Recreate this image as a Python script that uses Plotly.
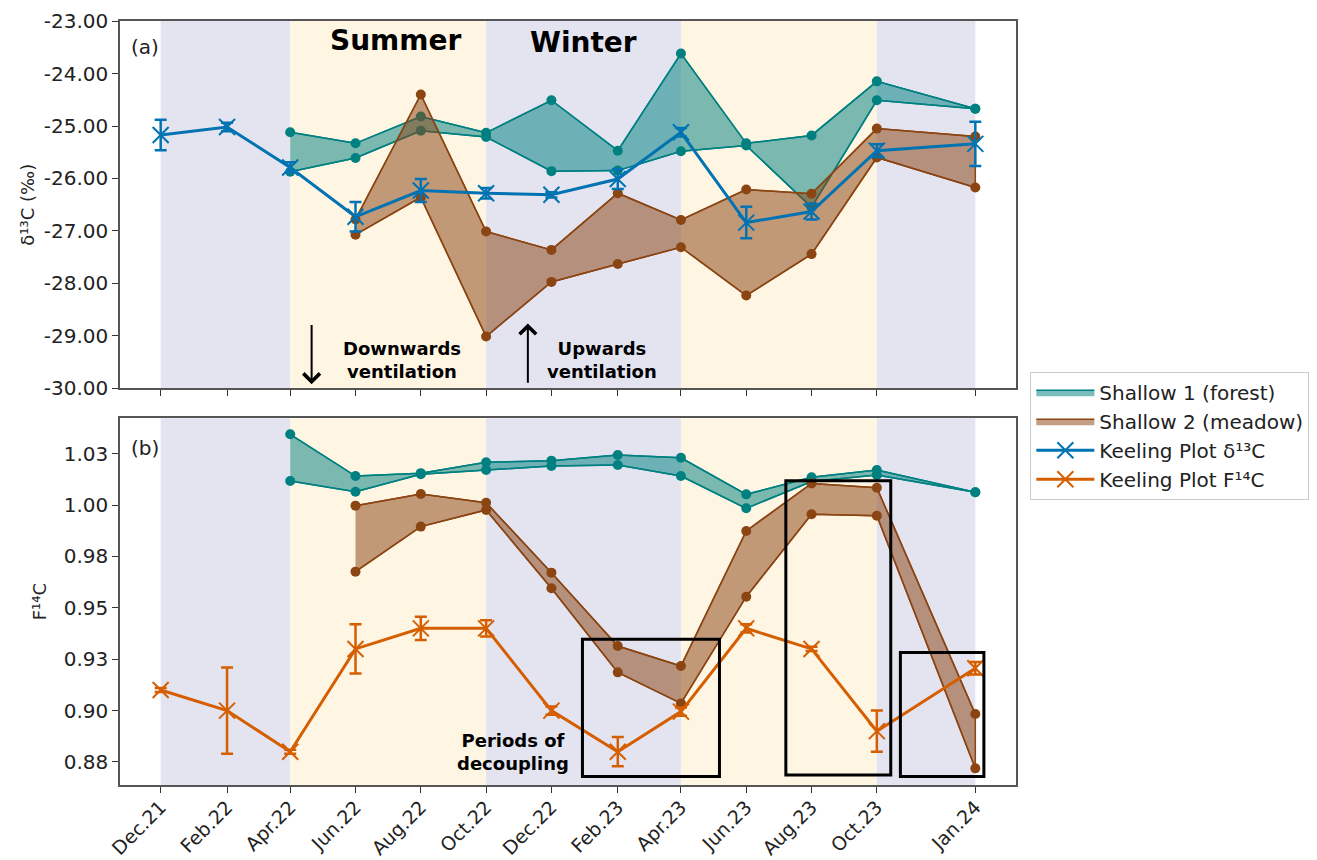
import plotly.graph_objects as go
from plotly.subplots import make_subplots

# ---------------- data ----------------
dates = ['2021-12-01', '2022-02-01', '2022-04-01', '2022-06-01', '2022-08-01', '2022-10-01',
         '2022-12-01', '2023-02-01', '2023-04-01', '2023-06-01', '2023-08-01', '2023-10-01',
         '2024-01-01']
tick_labels = ['Dec.21', 'Feb.22', 'Apr.22', 'Jun.22', 'Aug.22', 'Oct.22', 'Dec.22',
               'Feb.23', 'Apr.23', 'Jun.23', 'Aug.23', 'Oct.23', 'Jan.24']

# Keeling plot results
keel_d13c = [-25.17, -25.02, -25.79, -26.73, -26.23, -26.28, -26.31, -26.01, -25.12, -26.84, -26.63, -25.47, -25.34]
keel_d13c_err = [0.29, 0.08, 0.10, 0.28, 0.22, 0.10, 0.05, 0.19, 0.08, 0.30, 0.15, 0.12, 0.42]
keel_f14c = [0.910, 0.900, 0.880, 0.930, 0.940, 0.940, 0.900, 0.880, 0.8995, 0.940, 0.930, 0.890, 0.9206]
keel_f14c_err = [0.001, 0.021, 0.001, 0.012, 0.0057, 0.004, 0.002, 0.0071, 0.002, 0.002, 0.001, 0.010, 0.003]

# Shallow 1 (forest) range (upper / lower)
s1_d13c_hi = [None, None, -25.12, -25.33, -24.82, -25.13, -24.51, -25.47, -23.62, -25.33, -25.18, -24.15, -24.67]
s1_d13c_lo = [None, None, -25.87, -25.61, -25.09, -25.21, -25.86, -25.85, -25.48, -25.37, -26.55, -24.51, -24.67]
s1_f14c_hi = [None, None, 1.0344, 1.0141, 1.0155, 1.0208, 1.0216, 1.0243, 1.0230, 1.0052, 1.0135, 1.0170, 1.0062]
s1_f14c_lo = [None, None, 1.0117, 1.0065, 1.0150, 1.0170, 1.0190, 1.0195, 1.0141, 0.9984, 1.0114, 1.0146, 1.0062]

# Shallow 2 (meadow) range (upper / lower)
s2_d13c_hi = [None, None, None, -26.78, -24.40, -27.01, -27.36, -26.28, -26.79, -26.21, -26.29, -25.05, -25.20]
s2_d13c_lo = [None, None, None, -27.07, -26.36, -29.01, -27.97, -27.63, -27.31, -28.23, -27.44, -25.60, -26.17]
s2_f14c_hi = [None, None, None, 0.9997, 1.0054, 1.0011, 0.9671, 0.9314, 0.9217, 0.9874, 1.0105, 1.0084, 0.8983]
s2_f14c_lo = [None, None, None, 0.9676, 0.9895, 0.9976, 0.9595, 0.9186, 0.9035, 0.9554, 0.9955, 0.9948, 0.8719]

# seasons
season_edges = ['2021-12-01', '2022-04-01', '2022-10-01', '2023-04-01', '2023-10-01', '2024-01-01']
season_kind = ['winter', 'summer', 'winter', 'summer', 'winter']

# periods of decoupling (x start, x end, y low, y high)
decoupling_boxes = [
    ('2022-12-30', '2023-05-07', 0.8679, 0.9347),
    ('2023-07-08', '2023-10-14', 0.8687, 1.0118),
    ('2023-10-23', '2024-01-09', 0.8679, 0.9282),
]

d13c_tickvals = [-30, -29, -28, -27, -26, -25, -24, -23]
d13c_ticktext = ['-30.00', '-29.00', '-28.00', '-27.00', '-26.00', '-25.00', '-24.00', '-23.00']
f14c_tickvals = [0.875, 0.900, 0.925, 0.950, 0.975, 1.000, 1.025]
f14c_ticktext = ['0.88', '0.90', '0.93', '0.95', '0.98', '1.00', '1.03']

# ---------------- styles ----------------
FONT = 'DejaVu Sans'
TEAL = '#008080'
TEAL_FILL = 'rgba(0,128,128,0.52)'
BROWN = '#8B4513'
BROWN_FILL = 'rgba(139,69,19,0.52)'
BLUE = '#0173B2'
ORANGE = '#D55E00'
WINTER_BG = '#E4E4F1'
SUMMER_BG = '#FFF5E3'

fig = make_subplots(rows=2, cols=1, shared_xaxes=True)


def band(hi, lo, line_col, fill_col, name, row, show):
    xs = [d for d, h in zip(dates, hi) if h is not None]
    his = [h for h in hi if h is not None]
    los = [l for l in lo if l is not None]
    fig.add_trace(go.Scatter(x=xs + xs[::-1], y=his + los[::-1], fill='toself', fillcolor=fill_col,
                             mode='lines', line=dict(color=line_col, width=1.5), name=name,
                             legendgroup=name, showlegend=show, hoverinfo='skip'), row=row, col=1)
    for ys in (his, los):
        fig.add_trace(go.Scatter(x=xs, y=ys, mode='lines+markers', line=dict(color=line_col, width=1.5),
                                 marker=dict(color=line_col, size=10), legendgroup=name,
                                 showlegend=False), row=row, col=1)


band(s1_d13c_hi, s1_d13c_lo, TEAL, TEAL_FILL, 'Shallow 1 (forest)', 1, True)
band(s2_d13c_hi, s2_d13c_lo, BROWN, BROWN_FILL, 'Shallow 2 (meadow)', 1, True)
band(s1_f14c_hi, s1_f14c_lo, TEAL, TEAL_FILL, 'Shallow 1 (forest)', 2, False)
band(s2_f14c_hi, s2_f14c_lo, BROWN, BROWN_FILL, 'Shallow 2 (meadow)', 2, False)

fig.add_trace(go.Scatter(x=dates, y=keel_d13c, mode='lines+markers', name='Keeling Plot δ¹³C',
                         line=dict(color=BLUE, width=3),
                         marker=dict(symbol='x-thin', size=16, line=dict(color=BLUE, width=2)),
                         error_y=dict(type='data', array=keel_d13c_err, color=BLUE, thickness=2.5, width=6)),
              row=1, col=1)
fig.add_trace(go.Scatter(x=dates, y=keel_f14c, mode='lines+markers', name='Keeling Plot F¹⁴C',
                         line=dict(color=ORANGE, width=3),
                         marker=dict(symbol='x-thin', size=16, line=dict(color=ORANGE, width=2)),
                         error_y=dict(type='data', array=keel_f14c_err, color=ORANGE, thickness=2.5, width=6)),
              row=2, col=1)

# season shading
for i, kind in enumerate(season_kind):
    for yref in ('y domain', 'y2 domain'):
        fig.add_shape(type='rect', xref='x', yref=yref, x0=season_edges[i], x1=season_edges[i + 1],
                      y0=0, y1=1, fillcolor=WINTER_BG if kind == 'winter' else SUMMER_BG,
                      line=dict(width=0), layer='below')

# decoupling boxes
for x0, x1, y0, y1 in decoupling_boxes:
    fig.add_shape(type='rect', xref='x2', yref='y2', x0=x0, x1=x1, y0=y0, y1=y1,
                  line=dict(color='black', width=3), fillcolor='rgba(0,0,0,0)', layer='above')

ann = []
ann.append(dict(xref='x domain', yref='y domain', x=0.01, y=0.93, text='(a)', showarrow=False,
                xanchor='left', yanchor='middle', font=dict(size=20, color='#222')))
ann.append(dict(xref='x2 domain', yref='y2 domain', x=0.01, y=0.92, text='(b)', showarrow=False,
                xanchor='left', yanchor='middle', font=dict(size=20, color='#222')))
ann.append(dict(xref='x', yref='y', x='2022-07-08', y=-23.37, text='<b>Summer</b>', showarrow=False,
                font=dict(size=28, color='black')))
ann.append(dict(xref='x', yref='y', x='2022-12-31', y=-23.41, text='<b>Winter</b>', showarrow=False,
                font=dict(size=28, color='black')))
ann.append(dict(xref='x', yref='y', x='2022-07-14', y=-29.46, text='<b>Downwards<br>ventilation</b>',
                showarrow=False, font=dict(size=18, color='black')))
ann.append(dict(xref='x', yref='y', x='2023-01-17', y=-29.46, text='<b>Upwards<br>ventilation</b>',
                showarrow=False, font=dict(size=18, color='black')))
ann.append(dict(xref='x2', yref='y2', x='2022-10-26', y=0.880, text='<b>Periods of<br>decoupling</b>',
                showarrow=False, font=dict(size=18, color='black')))
# arrows
ann.append(dict(xref='x', yref='y', axref='x', ayref='y', x='2022-04-21', y=-29.92,
                ax='2022-04-21', ay=-28.76, text='', showarrow=True, arrowhead=4, arrowsize=1.6,
                arrowwidth=2, arrowcolor='black'))
ann.append(dict(xref='x', yref='y', axref='x', ayref='y', x='2022-11-09', y=-28.76,
                ax='2022-11-09', ay=-29.92, text='', showarrow=True, arrowhead=4, arrowsize=1.6,
                arrowwidth=2, arrowcolor='black'))

# page body has an 8px margin, so the figure is sized/offset to land the axes where the reference has them
fig.update_layout(
    width=1309, height=852,
    margin=dict(l=112, r=301, t=13, b=75, autoexpand=False),
    paper_bgcolor='white', plot_bgcolor='white',
    font=dict(family=FONT, size=20, color='#222'),
    annotations=ann,
    legend=dict(x=1.016, y=0.541, xanchor='left', yanchor='top', bgcolor='white',
                bordercolor='#cccccc', borderwidth=1, font=dict(size=20, color='#222'),
                itemwidth=58, tracegroupgap=0),
    showlegend=True,
)

common_x = dict(type='date', range=['2021-10-24', '2024-02-08'], tickvals=dates, ticktext=tick_labels,
                ticks='outside', ticklen=6, tickwidth=1.2, tickcolor='#333', showgrid=False,
                showline=True, linecolor='#555', linewidth=1.5, mirror=True, zeroline=False,
                automargin=False)
fig.update_xaxes(**common_x)
fig.update_xaxes(showticklabels=False, row=1, col=1)
fig.update_xaxes(showticklabels=True, tickangle=-45, tickfont=dict(size=19), ticklabelstandoff=-4,
                 row=2, col=1)

common_y = dict(ticks='outside', ticklen=6, tickwidth=1.2, tickcolor='#333', showgrid=False,
                showline=True, linecolor='#555', linewidth=1.5, mirror=True, zeroline=False,
                tickfont=dict(size=20), automargin=False)
fig.update_yaxes(**common_y)
fig.update_yaxes(range=[-30, -23], tickvals=d13c_tickvals, ticktext=d13c_ticktext, domain=[0.519, 1.0],
                 title=dict(text='δ¹³C (‰)', font=dict(size=18), standoff=4), row=1, col=1)
fig.update_yaxes(range=[0.8638, 1.0422], tickvals=f14c_tickvals, ticktext=f14c_ticktext,
                 domain=[0.0, 0.48], title=dict(text='F¹⁴C', font=dict(size=18), standoff=12),
                 row=2, col=1)

fig.write_html('out.html')
